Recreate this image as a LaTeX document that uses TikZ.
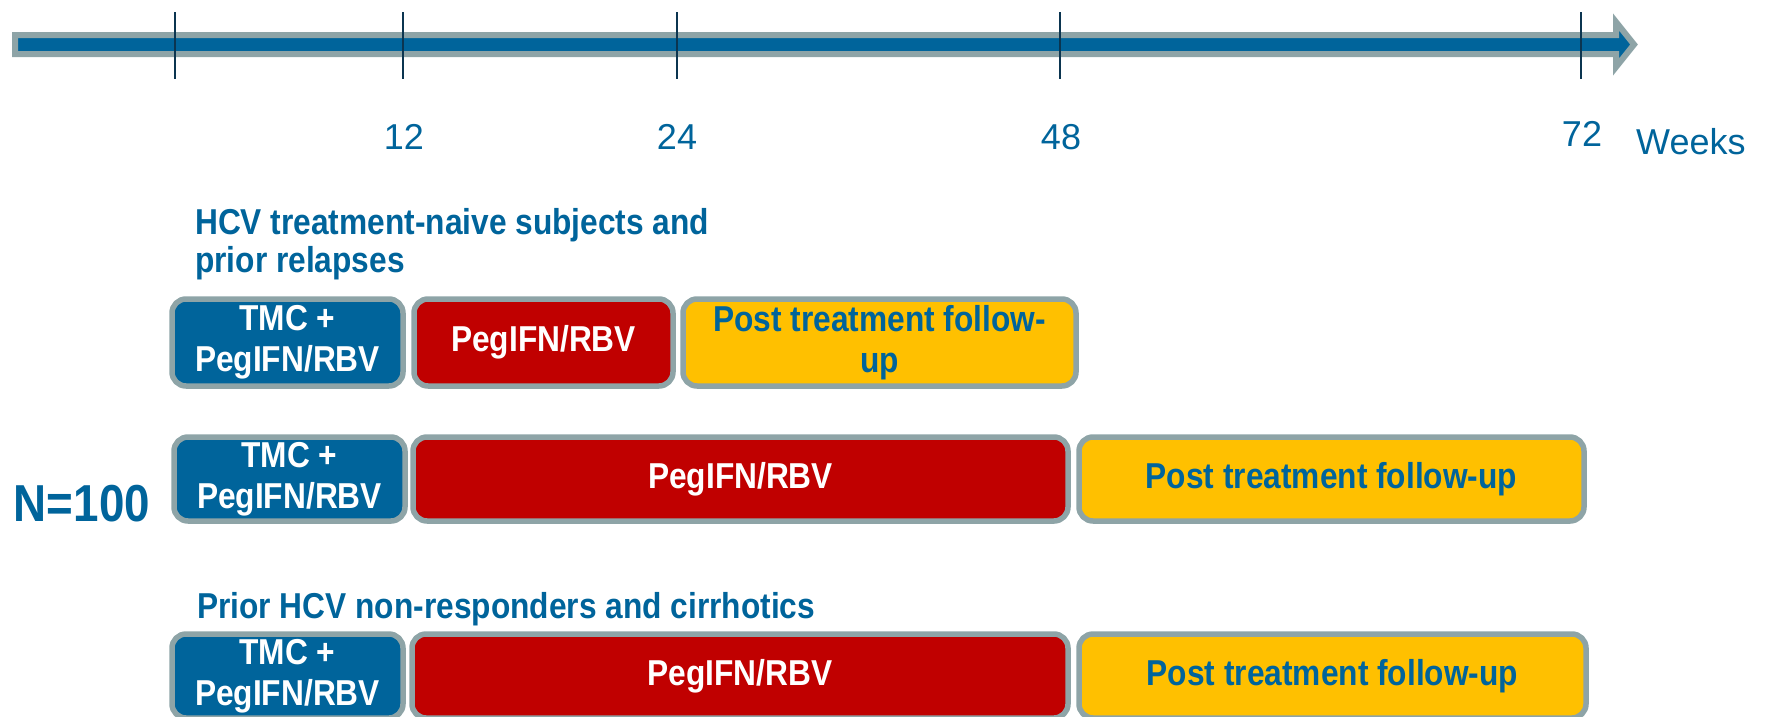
\documentclass[tikz,border=0pt]{standalone}
\usepackage{xcolor}
\usepackage{fontspec}
\setmainfont{Liberation Sans}
\newfontfamily\narrowsans{Liberation Sans}[FakeStretch=0.88]
\usepackage{tikz}
\usetikzlibrary{shapes,arrows,positioning}

\definecolor{trialblue}{HTML}{00649B}
\definecolor{trialred}{HTML}{C00000}
\definecolor{trialyellow}{HTML}{FFC000}
\definecolor{framegray}{HTML}{8EA4A7}
\definecolor{tickdark}{HTML}{0B3550}

\newcommand{\boxfont}{\narrowsans\bfseries\fontsize{36}{41}\selectfont}

\tikzset{
    phase/.style={line width=5.5pt, draw=framegray, rounded corners=14pt},
    whitetext/.style={font=\boxfont, text=white, align=center},
    bluetext/.style={font=\boxfont, text=trialblue, align=center},
    weektick/.style={line width=2pt, draw=tickdark},
    weeklabel/.style={font=\fontsize{36}{40}\selectfont, text=trialblue, inner sep=0pt},
    grouplabel/.style={font=\narrowsans\bfseries\fontsize{36}{38}\selectfont, text=trialblue, align=left, inner sep=0pt, anchor=north west}
}

\begin{document}
\begin{tikzpicture}[x=1pt,y=-1pt]

    \useasboundingbox (0,0) rectangle (1767,716);

    % time axis
    \draw[
        line width=6pt,
        draw=framegray,
        fill=trialblue,
        line join=miter
    ] (15,35) -- (1616,35) -- (1616,22) -- (1634,44.5) -- (1616,67) -- (1616,54) -- (15,54) -- cycle;

    \foreach \x in {175,403,677,1060,1581}
        \draw[weektick] (\x,12) -- (\x,79);

    \node[weeklabel] (w12) at (404,137) {12};
    \node[weeklabel] (w24) at (677,137) {24};
    \node[weeklabel] (w48) at (1061,137) {48};
    \node[weeklabel] (w72) at (1582,134) {72};
    \node[weeklabel, anchor=west] (weeks) at (1636,142) {Weeks};

    % group 1
    \node[grouplabel] (naive) at (195,208) {HCV treatment-naive subjects and\\prior relapses};

    \draw[
        phase,
        fill=trialblue
    ] (172,299) rectangle (403,386) node[pos=.5, whitetext] (tmcA) {TMC +\\PegIFN/RBV};

    \draw[
        phase,
        fill=trialred
    ] (414,299) rectangle (673,386) node[pos=.5, whitetext] (pegA) {PegIFN/RBV};

    \draw[
        phase,
        fill=trialyellow
    ] (683,299) rectangle (1076,386) node[pos=.5, bluetext] (postA) {Post treatment follow-\\up};

    % group 2
    \node[font=\narrowsans\bfseries\fontsize{52}{56}\selectfont, text=trialblue] (ntotal) at (82,504) {N=100};

    \draw[
        phase,
        fill=trialblue
    ] (174,437) rectangle (405,521) node[pos=.5, whitetext] (tmcB) {TMC +\\PegIFN/RBV};

    \draw[
        phase,
        fill=trialred
    ] (413,437) rectangle (1068,521) node[pos=.5, whitetext] (pegB) {PegIFN/RBV};

    \draw[
        phase,
        fill=trialyellow
    ] (1079,437) rectangle (1584,521) node[pos=.5, bluetext] (postB) {Post treatment follow-up};

    % group 3
    \node[grouplabel] (nonresp) at (197,592) {Prior HCV non-responders and cirrhotics};

    \draw[
        phase,
        fill=trialblue
    ] (172,634) rectangle (403,718) node[pos=.5, whitetext] (tmcC) {TMC +\\PegIFN/RBV};

    \draw[
        phase,
        fill=trialred
    ] (412,634) rectangle (1068,718) node[pos=.5, whitetext] (pegC) {PegIFN/RBV};

    \draw[
        phase,
        fill=trialyellow
    ] (1079,634) rectangle (1586,718) node[pos=.5, bluetext] (postC) {Post treatment follow-up};

\end{tikzpicture}
\end{document}
